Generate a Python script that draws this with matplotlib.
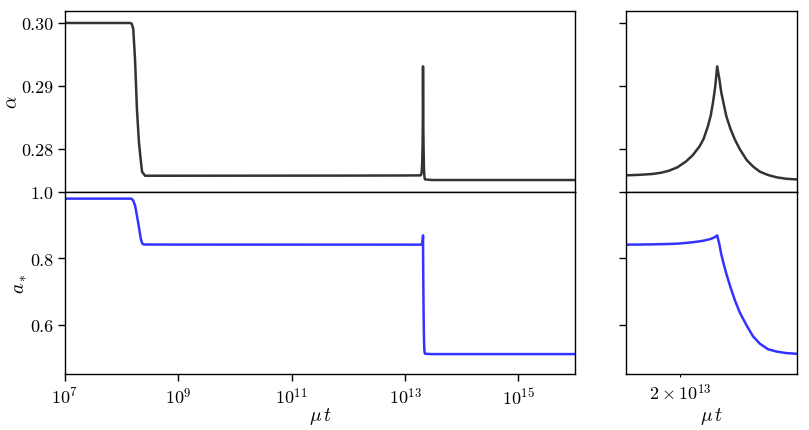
import matplotlib
matplotlib.use("Agg")
import matplotlib.pyplot as plt
from matplotlib.ticker import FixedLocator, NullLocator, FixedFormatter

plt.rcParams['font.family'] = 'serif'
plt.rcParams['font.serif'] = ['cmr10', 'DejaVu Serif']
plt.rcParams['mathtext.fontset'] = 'cm'
plt.rcParams['axes.formatter.use_mathtext'] = True
plt.rcParams['axes.unicode_minus'] = False

# ---- data ----
t = [1e7, 1.0e8, 1.40e8, 1.50e8, 1.60e8, 1.72e8, 1.86e8, 2.02e8, 2.17e8, 2.29e8,
     2.41e8, 2.58e8, 1e9, 1e12, 1e13,
     1.888e13, 1.916e13, 1.942e13, 1.961e13, 1.977e13, 1.9945e13, 2.012e13, 2.0263e13,
     2.041e13, 2.0499e13, 2.059e13, 2.0651e13, 2.070e13, 2.0749e13, 2.079e13,
     2.0836e13, 2.088e13, 2.0935e13, 2.099e13, 2.1079e13, 2.118e13, 2.129e13,
     2.144e13, 2.1583e13, 2.174e13, 2.1927e13, 2.213e13, 2.2346e13, 2.258e13,
     3e13, 1e16]
alpha_vals = [0.3000, 0.3000, 0.3000, 0.29989, 0.2991, 0.2943, 0.2863, 0.2810, 0.2783, 0.2764,
              0.27616, 0.27578, 0.27578, 0.27580, 0.27582,
              0.27584, 0.27592, 0.27605, 0.27626, 0.27658, 0.27712, 0.27802, 0.27901,
              0.28042, 0.28165, 0.28362, 0.28533, 0.28741, 0.28997, 0.29312,
              0.2912, 0.28896, 0.28709, 0.28522, 0.28325, 0.28149, 0.27997,
              0.27829, 0.27725, 0.27642, 0.27589, 0.27552, 0.2753, 0.2752,
              0.2751, 0.2751]
astar_vals = [0.980, 0.980, 0.980, 0.9795, 0.974, 0.960, 0.929, 0.893, 0.860, 0.846,
              0.8422, 0.8418, 0.8415, 0.8414, 0.8413,
              0.8413, 0.8416, 0.8422, 0.8428, 0.8434, 0.8443, 0.8465, 0.8486,
              0.8513, 0.8534, 0.8564, 0.8585, 0.8615, 0.8649, 0.8694,
              0.8437, 0.812, 0.7819, 0.7538, 0.714, 0.6733, 0.6362,
              0.5979, 0.5653, 0.5427, 0.5261, 0.5189, 0.5146, 0.5125,
              0.5115, 0.5115]

xlim_main = (1e7, 1e16)
xlim_zoom = (1.89e13, 2.26e13)
main_xticks = [1e7, 1e9, 1e11, 1e13, 1e15]
main_xticklabels = [r'$10^{7}$', r'$10^{9}$', r'$10^{11}$', r'$10^{13}$', r'$10^{15}$']
zoom_xticks = [2e13]
zoom_xticklabels = [r'$2\times10^{13}$']
alpha_yticks = [0.28, 0.29, 0.30]
alpha_yticklabels = ['0.28', '0.29', '0.30']
astar_yticks = [0.6, 0.8, 1.0]
astar_yticklabels = ['0.6', '0.8', '1.0']
ylim_alpha = (0.2732, 0.3019)
ylim_astar = (0.4515, 1.0)

W, H = 809, 431
fig = plt.figure(figsize=(W / 100, H / 100), dpi=100)

def box(x0, y0, x1, y1):
    return [x0 / W, 1 - y1 / H, (x1 - x0) / W, (y1 - y0) / H]

ax_a = fig.add_axes(box(65, 12, 575, 193))
ax_b = fig.add_axes(box(65, 193, 575, 375))
ax_c = fig.add_axes(box(626, 12, 797, 193))
ax_d = fig.add_axes(box(626, 193, 797, 375))

c_alpha = (0.2, 0.2, 0.2)
c_astar = (0.2, 0.2, 1.0)
lw = 1.8

for ax in (ax_a, ax_c):
    ax.plot(t, alpha_vals, color=c_alpha, lw=lw)
    ax.set_ylim(*ylim_alpha)
    ax.set_yticks(alpha_yticks)
for ax in (ax_b, ax_d):
    ax.plot(t, astar_vals, color=c_astar, lw=lw)
    ax.set_ylim(*ylim_astar)
    ax.set_yticks(astar_yticks)

for ax in (ax_a, ax_b):
    ax.set_xscale('log')
    ax.set_xlim(*xlim_main)
for ax in (ax_c, ax_d):
    ax.set_xscale('log')
    ax.set_xlim(*xlim_zoom)

ax_a.set_yticklabels(alpha_yticklabels)
ax_b.set_yticklabels(astar_yticklabels)
ax_c.set_yticklabels([])
ax_d.set_yticklabels([])

for ax in (ax_a, ax_c):
    ax.xaxis.set_major_locator(NullLocator())
    ax.xaxis.set_minor_locator(NullLocator())

ax_b.xaxis.set_major_locator(FixedLocator(main_xticks))
ax_b.xaxis.set_major_formatter(FixedFormatter(main_xticklabels))
ax_b.xaxis.set_minor_locator(NullLocator())

ax_d.xaxis.set_major_locator(NullLocator())
ax_d.xaxis.set_minor_locator(FixedLocator(zoom_xticks))
ax_d.xaxis.set_minor_formatter(FixedFormatter(zoom_xticklabels))

for ax in (ax_a, ax_b, ax_c, ax_d):
    ax.tick_params(which='major', length=5, width=1.0, labelsize=13, direction='out')
    ax.tick_params(which='minor', length=2.5, width=0.8, labelsize=13, direction='out')
    for s in ax.spines.values():
        s.set_linewidth(1.0)

ax_a.set_ylabel(r'$\alpha$', fontsize=14)
ax_b.set_ylabel(r'$a_*$', fontsize=14)
ax_b.set_xlabel(r'$\mu\, t$', fontsize=14)
ax_d.set_xlabel(r'$\mu\, t$', fontsize=14)
ax_a.yaxis.set_label_coords(-0.086, 0.5)
ax_b.yaxis.set_label_coords(-0.070, 0.5)
ax_b.xaxis.set_label_coords(0.5, -0.172)
ax_d.xaxis.set_label_coords(0.5, -0.172)

fig.savefig('out.png', dpi=100)
